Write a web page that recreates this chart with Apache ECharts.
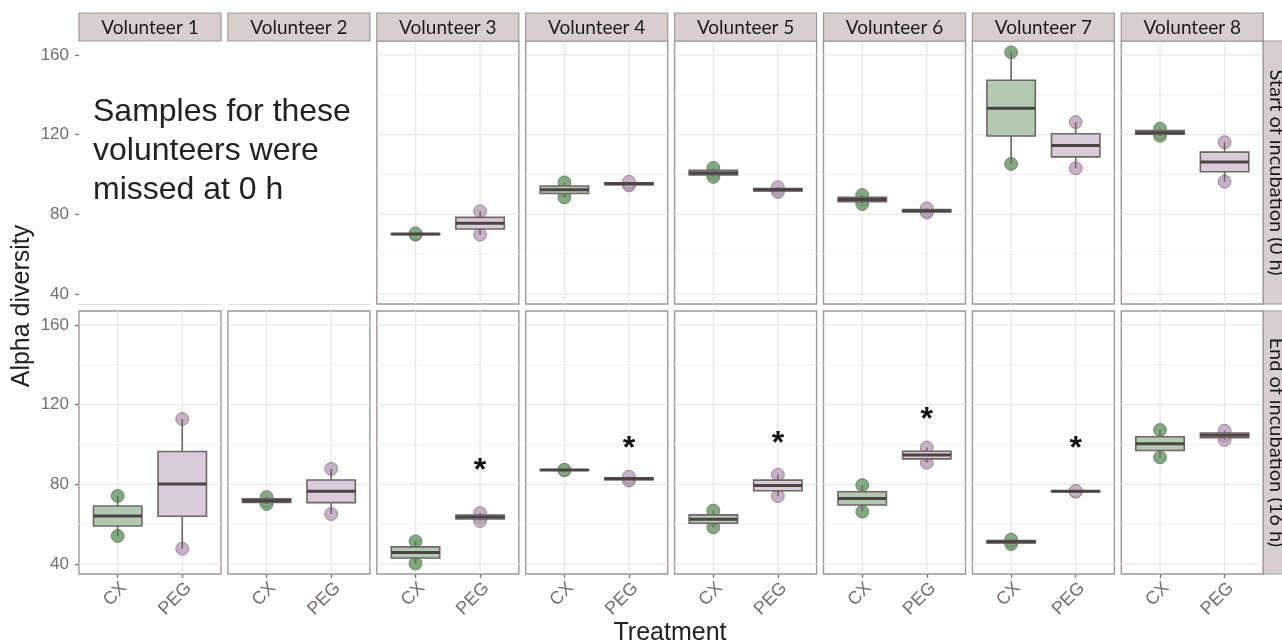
<!DOCTYPE html>
<html>
<head>
<meta charset="utf-8">
<script src="https://cdn.jsdelivr.net/npm/echarts@6/dist/echarts.min.js"></script>
<style>
html,body{margin:0;padding:0;background:#fff;}
#chart{width:1282px;height:644px;}
</style>
</head>
<body>
<div id="chart"></div>
<script>
// ---- data (three samples per group; null = not sampled) ----
const volunteers = ['Volunteer 1','Volunteer 2','Volunteer 3','Volunteer 4','Volunteer 5','Volunteer 6','Volunteer 7','Volunteer 8'];
const treatments = ['CX','PEG'];
const rowLabels = ['Start of incubation (0 h)','End of incubation (16 h)'];
const yTicks = [40, 80, 120, 160];
const yMinorTicks = [60, 100, 140];

const startCX  = [null, null, [69.8, 70.1, 70.4], [88.5, 92.4, 96.0], [98.8, 100.8, 103.3], [85.2, 87.4, 89.7], [105.3, 133.3, 161.3], [119.4, 121.0, 123.0]];
const startPEG = [null, null, [69.8, 75.5, 81.5], [94.5, 95.3, 96.3], [91.2, 92.3, 93.6], [80.9, 81.7, 83.0], [103.1, 114.6, 126.3], [96.4, 106.3, 116.2]];
const endCX    = [[54.1, 64.1, 74.2], [70.1, 71.8, 73.6], [40.3, 45.8, 51.4], [87.1, 87.2, 87.3], [58.4, 62.5, 66.8], [66.3, 72.9, 79.6], [50.0, 51.2, 52.3], [93.6, 100.4, 107.3]];
const endPEG   = [[47.7, 80.2, 112.8], [65.1, 76.5, 87.8], [61.6, 63.6, 65.6], [81.9, 82.8, 83.8], [74.1, 79.4, 84.8], [90.9, 94.7, 98.5], [76.3, 76.5, 76.7], [102.3, 104.6, 106.9]];
// position of significance asterisk above PEG (end of incubation)
const endStars = [null, null, 89.4, 100.8, 103.2, 115.0, 100.8, null];
const missingNote = 'Samples for these\nvolunteers were\nmissed at 0 h';

// ---- style ----
const boxFill = ['#b4c9b1', '#d9cbd9'];
const ptFill = ['#83a981', '#c6b1c6'];
const ptStroke = ['#6b8869', '#9a859a'];
const edge = '#6f6666';
const medianCol = '#4b4444';
const panelBorder = '#a09797';
const stripFill = '#d8cece';
const tickText = '#766d6d';
const sans = 'Liberation Sans';

const panelLeft0 = 79, panelStep = 148.9, panelW = 142, panelH = 263;
const rowTops = [41, 311];
const Y_MIN = 35, Y_MAX = 167;

function quantile(a, p) {
  const H = (a.length - 1) * p + 1, h = Math.floor(H), v = a[h - 1], e = H - h;
  return e ? v + e * (a[h] - v) : v;
}
function stats(samples) {
  const s = samples.slice().sort((x, y) => x - y);
  return [s[0], quantile(s, 0.25), quantile(s, 0.5), quantile(s, 0.75), s[s.length - 1]];
}

const grids = [], xAxes = [], yAxes = [], series = [], graphics = [];

function renderGridLines(params, api) {
  const children = [];
  const lineAt = (x1, y1, x2, y2, col, w) => {
    const a = api.coord([x1, y1]), b = api.coord([x2, y2]);
    children.push({type: 'line', shape: {x1: a[0], y1: a[1], x2: b[0], y2: b[1]}, style: {stroke: col, lineWidth: w}, silent: true});
  };
  yMinorTicks.forEach(v => lineAt(0.4, v, 2.6, v, '#f5f1f1', 1));
  yTicks.forEach(v => lineAt(0.4, v, 2.6, v, '#ece6e6', 1.3));
  [1, 2].forEach(x => lineAt(x, Y_MIN, x, Y_MAX, '#ece6e6', 1.3));
  return {type: 'group', children};
}

function renderBox(params, api) {
  const t = api.value(0);
  const ti = t - 1;
  const mn = api.value(1), q1 = api.value(2), md = api.value(3), q3 = api.value(4), mx = api.value(5);
  const pts = [api.value(6), api.value(7), api.value(8)];
  const hw = 0.375;
  const children = [];
  // points first (drawn under the box)
  pts.forEach(v => {
    const c = api.coord([t, v]);
    children.push({type: 'circle', shape: {cx: c[0], cy: c[1], r: 6.4}, style: {fill: ptFill[ti], stroke: ptStroke[ti], lineWidth: 1}});
  });
  const pMin = api.coord([t, mn]), pMax = api.coord([t, mx]);
  const pQ1 = api.coord([t, q1]), pQ3 = api.coord([t, q3]);
  children.push({type: 'line', shape: {x1: pMax[0], y1: pMax[1], x2: pQ3[0], y2: pQ3[1]}, style: {stroke: edge, lineWidth: 1.6}});
  children.push({type: 'line', shape: {x1: pQ1[0], y1: pQ1[1], x2: pMin[0], y2: pMin[1]}, style: {stroke: edge, lineWidth: 1.6}});
  const l = api.coord([t - hw, q3]), r = api.coord([t + hw, q1]);
  children.push({type: 'rect', shape: {x: l[0], y: l[1], width: r[0] - l[0], height: r[1] - l[1]}, style: {fill: boxFill[ti], stroke: edge, lineWidth: 1.6}});
  const ml = api.coord([t - hw, md]), mr = api.coord([t + hw, md]);
  children.push({type: 'line', shape: {x1: ml[0], y1: ml[1], x2: mr[0], y2: mr[1]}, style: {stroke: medianCol, lineWidth: 3}});
  return {type: 'group', children};
}

function renderStar(params, api) {
  const c = api.coord([api.value(0), api.value(1)]);
  return {type: 'text', x: c[0], y: c[1] + 6, style: {text: '*', font: 'bold 32px "' + sans + '"', fill: '#111', align: 'center', verticalAlign: 'middle'}};
}

const rowsData = [[startCX, startPEG], [endCX, endPEG]];

for (let r = 0; r < 2; r++) {
  for (let c = 0; c < 8; c++) {
    const gi = r * 8 + c;
    const left = panelLeft0 + c * panelStep;
    const blank = (r === 0 && c < 2);
    grids.push({left: left, top: rowTops[r], width: panelW, height: panelH, show: !blank,
      borderColor: panelBorder, borderWidth: 1.4, backgroundColor: '#fff', containLabel: false});
    xAxes.push({type: 'value', gridIndex: gi, min: 0.4, max: 2.6,
      splitLine: {show: false},
      axisLine: {show: blank, onZero: false, lineStyle: {color: '#e2dcdc', width: 1}},
      axisTick: {show: r === 1, customValues: [1, 2], length: 4, lineStyle: {color: '#7d7474', width: 1.3}},
      axisLabel: {show: r === 1, customValues: [1, 2], formatter: v => treatments[Math.round(v) - 1] || '',
        rotate: 45, align: 'right', verticalAlign: 'top', fontSize: 18, color: tickText, fontFamily: sans, margin: 5}});
    yAxes.push({type: 'value', gridIndex: gi, min: Y_MIN, max: Y_MAX,
      splitLine: {show: false},
      axisLine: {show: false},
      axisTick: {show: c === 0, customValues: yTicks, length: 4, lineStyle: {color: '#7d7474', width: 1.3}},
      axisLabel: {show: c === 0, customValues: yTicks, fontSize: 17, color: tickText, fontFamily: sans, margin: 10}});
    if (!blank) {
      series.push({type: 'custom', xAxisIndex: gi, yAxisIndex: gi, z: 1, silent: true,
        renderItem: renderGridLines, data: [[1, 100]]});
      const boxData = [];
      for (let t = 0; t < 2; t++) {
        const samples = rowsData[r][t][c];
        if (!samples) continue;
        boxData.push([t + 1].concat(stats(samples), samples));
      }
      series.push({type: 'custom', xAxisIndex: gi, yAxisIndex: gi, z: 3, silent: true,
        name: volunteers[c] + ' ' + rowLabels[r], renderItem: renderBox, data: boxData,
        encode: {x: 0, y: [1, 5]}});
      if (r === 1 && endStars[c] != null) {
        series.push({type: 'custom', xAxisIndex: gi, yAxisIndex: gi, z: 4, silent: true,
          renderItem: renderStar, data: [[2, endStars[c]]]});
      }
    }
  }
}

// strips (top)
for (let c = 0; c < 8; c++) {
  const left = panelLeft0 + c * panelStep;
  graphics.push({type: 'rect', shape: {x: left, y: 13, width: panelW, height: 28},
    style: {fill: stripFill, stroke: panelBorder, lineWidth: 1.2}, z: 10});
  graphics.push({type: 'text', x: left + panelW / 2, y: 27.5,
    style: {text: volunteers[c], font: '19px Lato', fill: '#1a1a1a', align: 'center', verticalAlign: 'middle'}, z: 11});
}
// strips (right)
const rightX = panelLeft0 + 7 * panelStep + panelW;
for (let r = 0; r < 2; r++) {
  graphics.push({type: 'rect', shape: {x: rightX, y: rowTops[r], width: 28, height: panelH},
    style: {fill: stripFill, stroke: panelBorder, lineWidth: 1.2}, z: 10});
  graphics.push({type: 'text', x: rightX + 13, y: rowTops[r] + panelH / 2, rotation: -Math.PI / 2,
    style: {text: rowLabels[r], font: '20px Lato', fill: '#1a1a1a', align: 'center', verticalAlign: 'middle'}, z: 11});
}
// missing-sample note
graphics.push({type: 'text', x: 93, y: 93,
  style: {text: missingNote, font: '32px "' + sans + '"', fill: '#222', lineHeight: 39, align: 'left', verticalAlign: 'top'}, z: 11});
// axis titles
graphics.push({type: 'text', x: 22, y: 306, rotation: Math.PI / 2,
  style: {text: 'Alpha diversity', font: '25px "' + sans + '"', fill: '#222', align: 'center', verticalAlign: 'middle'}, z: 11});
graphics.push({type: 'text', x: 670, y: 633,
  style: {text: 'Treatment', font: '25px "' + sans + '"', fill: '#222', align: 'center', verticalAlign: 'middle'}, z: 11});

const chart = echarts.init(document.getElementById('chart'), null, {renderer: 'canvas'});
chart.setOption({
  animation: false,
  backgroundColor: '#fff',
  grid: grids,
  xAxis: xAxes,
  yAxis: yAxes,
  series: series,
  graphic: {elements: graphics}
});
</script>
</body>
</html>
